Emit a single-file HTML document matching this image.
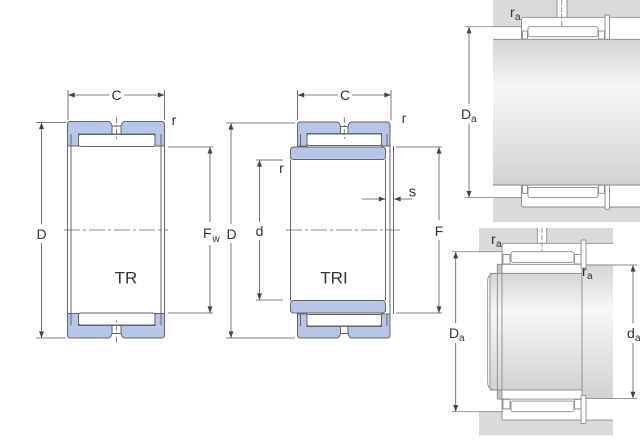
<!DOCTYPE html>
<html><head><meta charset="utf-8"><style>
html,body{margin:0;padding:0;background:#fff;width:640px;height:440px;overflow:hidden}
svg{display:block}
text{font-family:"Liberation Sans",Arial,sans-serif;fill:#333}
</style></head><body>
<svg width="640" height="440" viewBox="0 0 640 440" xmlns="http://www.w3.org/2000/svg">
<defs>
<marker id="a" viewBox="0 0 8 6" refX="8" refY="3" markerWidth="7" markerHeight="5" orient="auto" markerUnits="userSpaceOnUse"><path d="M0,0 L8,3 L0,6 z" fill="#444"/></marker>
<linearGradient id="sh" x1="0" y1="0" x2="0" y2="1">
<stop offset="0" stop-color="#d4d4d4"/><stop offset="0.33" stop-color="#f7f7f7"/><stop offset="0.6" stop-color="#e8e8e8"/><stop offset="1" stop-color="#d2d2d2"/>
</linearGradient>
</defs>
<rect width="640" height="440" fill="#fff"/>

<!-- ===== TR bearing ===== -->
<g stroke="#666" stroke-width="1">
<g>
<path d="M67.5,146 V124.5 Q67.5,121.5 70.5,121.5 H108 Q111,121.5 112,126 H121 Q122,121.5 125,121.5 H161.5 Q164.5,121.5 164.5,124.5 V146 H155 V134 H78.5 V146 Z" fill="#b7c6e5"/>
<rect x="112.5" y="126.5" width="8" height="7" fill="#fff" stroke="none"/>
<line x1="112" y1="126" x2="112" y2="134"/><line x1="121" y1="126" x2="121" y2="134"/>
<rect x="78.5" y="134.5" width="76.5" height="12" rx="2" fill="#fff"/>
<line x1="71" y1="134" x2="71" y2="146"/><line x1="161" y1="134" x2="161" y2="146"/>
<line x1="116.5" y1="117" x2="116.5" y2="139" stroke-width="0.8" stroke-dasharray="6,2,2,2"/>
</g>
<g transform="translate(0,459.5) scale(1,-1)">
<path d="M67.5,146 V124.5 Q67.5,121.5 70.5,121.5 H108 Q111,121.5 112,126 H121 Q122,121.5 125,121.5 H161.5 Q164.5,121.5 164.5,124.5 V146 H155 V134 H78.5 V146 Z" fill="#b7c6e5"/>
<rect x="112.5" y="126.5" width="8" height="7" fill="#fff" stroke="none"/>
<line x1="112" y1="126" x2="112" y2="134"/><line x1="121" y1="126" x2="121" y2="134"/>
<rect x="78.5" y="134.5" width="76.5" height="12" rx="2" fill="#fff"/>
<line x1="71" y1="134" x2="71" y2="146"/><line x1="161" y1="134" x2="161" y2="146"/>
<line x1="116.5" y1="117" x2="116.5" y2="139" stroke-width="0.8" stroke-dasharray="6,2,2,2"/>
</g>
<line x1="67.5" y1="146" x2="67.5" y2="313.5"/><line x1="71" y1="146" x2="71" y2="313.5"/>
<line x1="161" y1="146" x2="161" y2="313.5"/><line x1="164.5" y1="146" x2="164.5" y2="313.5"/>
</g>

<!-- ===== TRI bearing ===== -->
<g stroke="#666" stroke-width="1">
<g>
<path d="M297.5,146 V125 Q297.5,122 300.5,122 H336.5 Q339.5,122 340.5,126.5 H348 Q349,122 352,122 H387 Q390,122 390,125 V146 H381.5 V133.5 H307 V146 Z" fill="#b7c6e5"/>
<rect x="341" y="127" width="6.5" height="6" fill="#fff" stroke="none"/>
<line x1="340.5" y1="126.5" x2="340.5" y2="133.5"/><line x1="348" y1="126.5" x2="348" y2="133.5"/>
<rect x="307" y="134" width="74.5" height="11.5" rx="2" fill="#fff"/>
<line x1="300.5" y1="134" x2="300.5" y2="146"/><line x1="387" y1="134" x2="387" y2="146"/>
<rect x="290.5" y="147" width="95" height="12.5" rx="3" fill="#b7c6e5"/>
<line x1="344.3" y1="117" x2="344.3" y2="139" stroke-width="0.8" stroke-dasharray="6,2,2,2"/>
</g>
<g transform="translate(0,460) scale(1,-1)">
<path d="M297.5,146 V125 Q297.5,122 300.5,122 H336.5 Q339.5,122 340.5,126.5 H348 Q349,122 352,122 H387 Q390,122 390,125 V146 H381.5 V133.5 H307 V146 Z" fill="#b7c6e5"/>
<rect x="341" y="127" width="6.5" height="6" fill="#fff" stroke="none"/>
<line x1="340.5" y1="126.5" x2="340.5" y2="133.5"/><line x1="348" y1="126.5" x2="348" y2="133.5"/>
<rect x="307" y="134" width="74.5" height="11.5" rx="2" fill="#fff"/>
<line x1="300.5" y1="134" x2="300.5" y2="146"/><line x1="387" y1="134" x2="387" y2="146"/>
<rect x="290.5" y="147" width="95" height="12.5" rx="3" fill="#b7c6e5"/>
</g>
<line x1="290.5" y1="159.5" x2="290.5" y2="300.5"/><line x1="385.5" y1="159.5" x2="385.5" y2="300.5"/>
<line x1="390" y1="146" x2="390" y2="314"/><line x1="393.5" y1="146" x2="393.5" y2="314"/>
</g>

<!-- centerlines -->
<g stroke="#666" stroke-width="0.8" stroke-dasharray="16,3,3,3">
<line x1="64" y1="230" x2="168" y2="230"/>
<line x1="286" y1="230" x2="400" y2="230"/>
</g>

<!-- dimension lines -->
<g stroke="#555" stroke-width="0.8" fill="none">
<line x1="68" y1="90" x2="68" y2="120"/><line x1="164.5" y1="90" x2="164.5" y2="120"/>
<line x1="109" y1="95" x2="68" y2="95" marker-end="url(#a)"/><line x1="124" y1="95" x2="164.5" y2="95" marker-end="url(#a)"/>
<line x1="36" y1="122.5" x2="66" y2="122.5"/><line x1="36" y1="338" x2="66" y2="338"/>
<line x1="41.5" y1="224" x2="41.5" y2="122.5" marker-end="url(#a)"/><line x1="41.5" y1="243" x2="41.5" y2="338" marker-end="url(#a)"/>
<line x1="168" y1="147" x2="213" y2="147"/><line x1="168" y1="313" x2="213" y2="313"/>
<line x1="210" y1="222" x2="210" y2="147" marker-end="url(#a)"/><line x1="210" y1="245" x2="210" y2="313" marker-end="url(#a)"/>
<line x1="297.5" y1="90" x2="297.5" y2="120"/><line x1="391" y1="90" x2="391" y2="120"/>
<line x1="338" y1="95" x2="297.5" y2="95" marker-end="url(#a)"/><line x1="352" y1="95" x2="391" y2="95" marker-end="url(#a)"/>
<line x1="226" y1="123" x2="295" y2="123"/><line x1="226" y1="338" x2="295" y2="338"/>
<line x1="231" y1="224" x2="231" y2="123" marker-end="url(#a)"/><line x1="231" y1="243" x2="231" y2="338" marker-end="url(#a)"/>
<line x1="256" y1="160" x2="283" y2="160"/><line x1="256" y1="300" x2="283" y2="300"/>
<line x1="259.5" y1="222" x2="259.5" y2="160" marker-end="url(#a)"/><line x1="259.5" y1="240" x2="259.5" y2="300" marker-end="url(#a)"/>
<line x1="396" y1="147" x2="442" y2="147"/><line x1="396" y1="313" x2="442" y2="313"/>
<line x1="439" y1="220" x2="439" y2="147" marker-end="url(#a)"/><line x1="439" y1="240" x2="439" y2="313" marker-end="url(#a)"/>
<line x1="362" y1="199" x2="385.5" y2="199" marker-end="url(#a)"/>
<line x1="412" y1="199" x2="394" y2="199" marker-end="url(#a)"/>
</g>

<!-- labels -->
<g font-size="14">
<text x="116.5" y="100" text-anchor="middle">C</text>
<text x="174" y="125" text-anchor="middle">r</text>
<text x="41.5" y="239" text-anchor="middle">D</text>
<text x="203" y="238">F</text><text x="212.5" y="242" font-size="10">w</text>
<text x="345" y="100" text-anchor="middle">C</text>
<text x="404" y="123" text-anchor="middle">r</text>
<text x="281.5" y="173" text-anchor="middle">r</text>
<text x="231.5" y="239" text-anchor="middle">D</text>
<text x="259.5" y="236" text-anchor="middle">d</text>
<text x="439" y="236" text-anchor="middle">F</text>
<text x="412.5" y="196.5" text-anchor="middle" font-size="15">s</text>
</g>
<text x="126" y="283.5" text-anchor="middle" font-size="17">TR</text>
<text x="334" y="283.5" text-anchor="middle" font-size="17">TRI</text>

<!-- ===== top right panel ===== -->
<rect x="493" y="0" width="147" height="222" fill="#dadada"/>
<path d="M521.5,17.3 H640 V39.3 H493 V26.7 H521.5 Z" fill="#fff"/>
<path d="M521.5,207 H640 V185 H493 V197.6 H521.5 Z" fill="#fff"/>
<rect x="493" y="39.3" width="147" height="145.7" fill="url(#sh)"/>
<rect x="557" y="0" width="10" height="17.3" fill="#fff"/>
<g stroke="#8a8a8a" stroke-width="0.9" fill="none">
<line x1="557" y1="0" x2="557" y2="17.3"/><line x1="567" y1="0" x2="567" y2="17.3"/>
<line x1="561.7" y1="0" x2="561.7" y2="31" stroke-dasharray="5,2"/>
<line x1="493" y1="39.3" x2="640" y2="39.3"/><line x1="493" y1="185" x2="640" y2="185"/>
<line x1="465" y1="26.7" x2="521.5" y2="26.7"/><line x1="465" y1="197.6" x2="521.5" y2="197.6"/>
<g>
<path d="M521.5,39.3 V19.5 Q521.5,17.3 523.5,17.3 H640"/>
<rect x="528" y="26.7" width="70" height="10" rx="2" fill="#fff"/>
<rect x="522.5" y="31" width="5" height="8"/><rect x="598.5" y="31" width="6" height="8"/>
<rect x="605" y="15" width="4.5" height="24.3" rx="1" fill="#fff"/>
</g>
<g transform="translate(0,224.3) scale(1,-1)">
<path d="M521.5,39.3 V19.5 Q521.5,17.3 523.5,17.3 H640"/>
<rect x="528" y="26.7" width="70" height="10" rx="2" fill="#fff"/>
<rect x="522.5" y="31" width="5" height="8"/><rect x="598.5" y="31" width="6" height="8"/>
<rect x="605" y="15" width="4.5" height="24.3" rx="1" fill="#fff"/>
</g>
</g>
<g stroke="#555" stroke-width="0.8">
<line x1="469" y1="104" x2="469" y2="26.7" marker-end="url(#a)"/>
<line x1="469" y1="124" x2="469" y2="197.6" marker-end="url(#a)"/>
</g>
<text x="461" y="119" font-size="14">D</text><text x="471" y="122" font-size="10">a</text>
<text x="510" y="17" font-size="14">r</text><text x="515" y="20" font-size="10">a</text>

<!-- ===== bottom right panel ===== -->
<rect x="479" y="228" width="134" height="15.3" fill="#dadada"/>
<rect x="479" y="243" width="23" height="8.7" fill="#dadada"/>
<rect x="479" y="420.1" width="134" height="15.3" fill="#dadada"/>
<rect x="479" y="411.7" width="23" height="8.7" fill="#dadada"/>
<rect x="490" y="273.3" width="123" height="116.8" fill="url(#sh)"/>
<rect x="582" y="265" width="31" height="133.4" fill="url(#sh)"/>
<rect x="537.3" y="228" width="9.4" height="15.3" fill="#fff"/>
<rect x="502" y="264.3" width="80" height="9" fill="#fff"/>
<rect x="502" y="390.1" width="80" height="9" fill="#fff"/>
<rect x="497.3" y="264.3" width="4.7" height="10" fill="#c6c6c6"/>
<rect x="497.3" y="389" width="4.7" height="10" fill="#c6c6c6"/>
<g stroke="#8a8a8a" stroke-width="0.9" fill="none">
<line x1="537.3" y1="228" x2="537.3" y2="243.3"/><line x1="546.7" y1="228" x2="546.7" y2="243.3"/>
<line x1="542" y1="228" x2="542" y2="253" stroke-dasharray="5,2"/>
<line x1="452" y1="251.7" x2="502" y2="251.7"/><line x1="452" y1="411.7" x2="502" y2="411.7"/>
<line x1="582" y1="265" x2="637" y2="265"/><line x1="582" y1="398.4" x2="637" y2="398.4"/>
<line x1="582" y1="265" x2="582" y2="398.4"/>
<path d="M496,273.3 Q487.7,273.3 487.7,281 V382.4 Q487.7,390.1 496,390.1"/>
<line x1="490" y1="276" x2="490" y2="387.4"/>
<line x1="497.3" y1="264.3" x2="497.3" y2="399"/><line x1="502" y1="264.3" x2="502" y2="399"/>
<g>
<path d="M502,264.3 V245.5 Q502,243.3 504,243.3 H613"/>
<rect x="511" y="251.7" width="63" height="10.6" rx="2" fill="#fff"/>
<rect x="503" y="254.5" width="7" height="9.5"/><rect x="574.5" y="254.5" width="6.5" height="9.5"/>
<rect x="581" y="240" width="5" height="28" rx="1" fill="#fff"/>
<line x1="497.3" y1="264.3" x2="582" y2="264.3"/><line x1="490" y1="273.3" x2="582" y2="273.3"/>
</g>
<g transform="translate(0,663.4) scale(1,-1)">
<path d="M502,264.3 V245.5 Q502,243.3 504,243.3 H613"/>
<rect x="511" y="251.7" width="63" height="10.6" rx="2" fill="#fff"/>
<rect x="503" y="254.5" width="7" height="9.5"/><rect x="574.5" y="254.5" width="6.5" height="9.5"/>
<rect x="581" y="240" width="5" height="28" rx="1" fill="#fff"/>
<line x1="497.3" y1="264.3" x2="582" y2="264.3"/><line x1="490" y1="273.3" x2="582" y2="273.3"/>
</g>
</g>
<g stroke="#555" stroke-width="0.8">
<line x1="455.7" y1="323" x2="455.7" y2="251.7" marker-end="url(#a)"/>
<line x1="455.7" y1="343" x2="455.7" y2="411.7" marker-end="url(#a)"/>
<line x1="633" y1="323" x2="633" y2="265" marker-end="url(#a)"/>
<line x1="633" y1="343" x2="633" y2="398.4" marker-end="url(#a)"/>
</g>
<text x="449" y="338" font-size="14">D</text><text x="459" y="341" font-size="10">a</text>
<text x="627" y="338" font-size="14">d</text><text x="635" y="341" font-size="10">a</text>
<text x="491" y="244" font-size="14">r</text><text x="496" y="247" font-size="10">a</text>
<text x="582" y="276" font-size="14">r</text><text x="587" y="279" font-size="10">a</text>
</svg>
</body></html>
